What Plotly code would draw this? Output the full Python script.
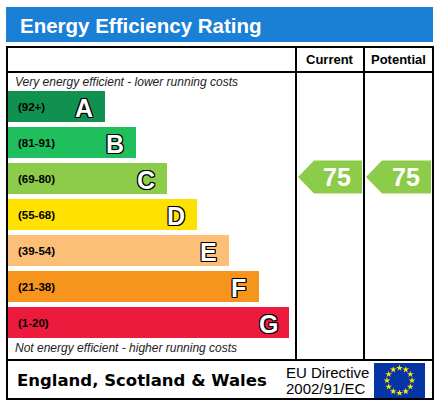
import math
import plotly.graph_objects as go

# band data
bands = ['A', 'B', 'C', 'D', 'E', 'F', 'G']
band_ranges = ['(92+)', '(81-91)', '(69-80)', '(55-68)', '(39-54)', '(21-38)', '(1-20)']
band_low = [92, 81, 69, 55, 39, 21, 1]
band_colors = ['#109150', '#1fbf5d', '#8dcb4b', '#ffe100', '#fbbf78', '#f7941e', '#ec1b3d']

current_rating = 75
potential_rating = 75

# layout in pixel space
W, H = 441, 405
bar_left = 8
bar_lengths = [97, 128, 159, 189, 221, 251, 281]
row_top0, row_step, row_h = 91, 36, 31
col_cur = (296, 364)
col_pot = (364, 433)

centers = [row_top0 + row_h / 2 + i * row_step for i in range(len(bands))]

fig = go.Figure()

fig.add_trace(go.Bar(
    orientation='h', y=centers, x=bar_lengths, base=bar_left, width=row_h,
    marker=dict(color=band_colors, line=dict(width=0)), hoverinfo='skip',
))


def band_index(score):
    for i, lo in enumerate(band_low):
        if score >= lo:
            return i
    return len(bands) - 1


def add_arrow(score, col):
    i = band_index(score)
    cy = centers[i] - 1.5
    x0, x1 = col[0] + 2, col[1] - 2
    top, bot = cy - 16.5, cy + 16.5
    fig.add_trace(go.Scatter(
        x=[x0, x0 + 16, x1, x1, x0 + 16, x0], y=[cy, top, top, bot, bot, cy],
        mode='lines', fill='toself', fillcolor=band_colors[i],
        line=dict(width=0), hoverinfo='skip',
    ))
    fig.add_annotation(x=(x0 + 16 + x1) / 2 - 1, y=cy, text='<b>%d</b>' % score,
                       showarrow=False, font=dict(family='Liberation Sans, Arial', size=25, color='white'))


add_arrow(current_rating, col_cur)
add_arrow(potential_rating, col_pot)

shapes = []
# title bar
shapes.append(dict(type='rect', x0=6, x1=433, y0=7, y1=42, fillcolor='#1a80d6', line=dict(width=0), layer='below'))
# table
ln = dict(color='black', width=2)
shapes.append(dict(type='rect', x0=7, x1=433, y0=47, y1=399, line=ln))
shapes.append(dict(type='line', x0=7, x1=433, y0=72, y1=72, line=ln))
shapes.append(dict(type='line', x0=7, x1=433, y0=360, y1=360, line=ln))
for xv in (col_cur[0], col_pot[0]):
    shapes.append(dict(type='line', x0=xv, x1=xv, y0=47, y1=360, line=ln))
# EU flag
shapes.append(dict(type='rect', x0=374, x1=425, y0=363, y1=398, fillcolor='#0535a5', line=dict(width=0), layer='below'))

fig.update_layout(shapes=shapes)

font = 'Liberation Sans, Arial, sans-serif'
outline = '-1px -1px 0 #000, 1px -1px 0 #000, -1px 1px 0 #000, 1px 1px 0 #000, 0 1px 0 #000, 0 -1px 0 #000, 1px 0 0 #000, -1px 0 0 #000'

fig.add_annotation(x=18, y=25, xanchor='left', text='<b>Energy Efficiency Rating</b>', showarrow=False,
                   font=dict(family=font, size=20.5, color='white'))
fig.add_annotation(x=sum(col_cur) / 2, y=59.5, text='<b>Current</b>', showarrow=False,
                   font=dict(family=font, size=13, color='black'))
fig.add_annotation(x=sum(col_pot) / 2, y=59.5, text='<b>Potential</b>', showarrow=False,
                   font=dict(family=font, size=13, color='black'))
fig.add_annotation(x=13, y=81.5, xanchor='left', text='<i>Very energy efficient - lower running costs</i>',
                   showarrow=False, font=dict(family=font, size=12, color='#222'))
fig.add_annotation(x=13, y=348, xanchor='left', text='<i>Not energy efficient - higher running costs</i>',
                   showarrow=False, font=dict(family=font, size=12, color='#222'))

for i, (b, r) in enumerate(zip(bands, band_ranges)):
    fig.add_annotation(x=16, y=centers[i], xanchor='left', text='<b>%s</b>' % r, showarrow=False,
                       font=dict(family=font, size=11.5, color='black'))
    fig.add_annotation(x=bar_left + bar_lengths[i] - 21, y=centers[i] + 1, text='<b>%s</b>' % b, showarrow=False,
                       font=dict(family=font, size=25, color='white', shadow=outline))

fig.add_annotation(x=15, y=380, xanchor='left', text='<b>England, Scotland &amp; Wales</b>', showarrow=False,
                   font=dict(family='DejaVu Sans, Verdana', size=16.5, color='black'))
fig.add_annotation(x=284, y=372, xanchor='left', text='EU Directive', showarrow=False,
                   font=dict(family=font, size=15, color='black'))
fig.add_annotation(x=284, y=388.5, xanchor='left', text='2002/91/EC', showarrow=False,
                   font=dict(family=font, size=15, color='black'))

# EU stars
sx = [399.5 + 12.5 * math.sin(k * math.pi / 6) for k in range(12)]
sy = [380.5 - 12.5 * math.cos(k * math.pi / 6) for k in range(12)]
fig.add_trace(go.Scatter(x=sx, y=sy, mode='markers', hoverinfo='skip',
                         marker=dict(symbol='star', size=5, color='#ffe600', line=dict(width=0))))

fig.update_layout(
    width=W, height=H, margin=dict(l=0, r=0, t=0, b=0),
    paper_bgcolor='white', plot_bgcolor='white', showlegend=False,
    xaxis=dict(range=[0, W], visible=False, fixedrange=True),
    yaxis=dict(range=[H, 0], visible=False, fixedrange=True),
    bargap=0,
)

fig.write_html("out.html", config={'displayModeBar': False},
               post_script="document.body.style.margin='0';document.body.style.overflow='hidden';")
